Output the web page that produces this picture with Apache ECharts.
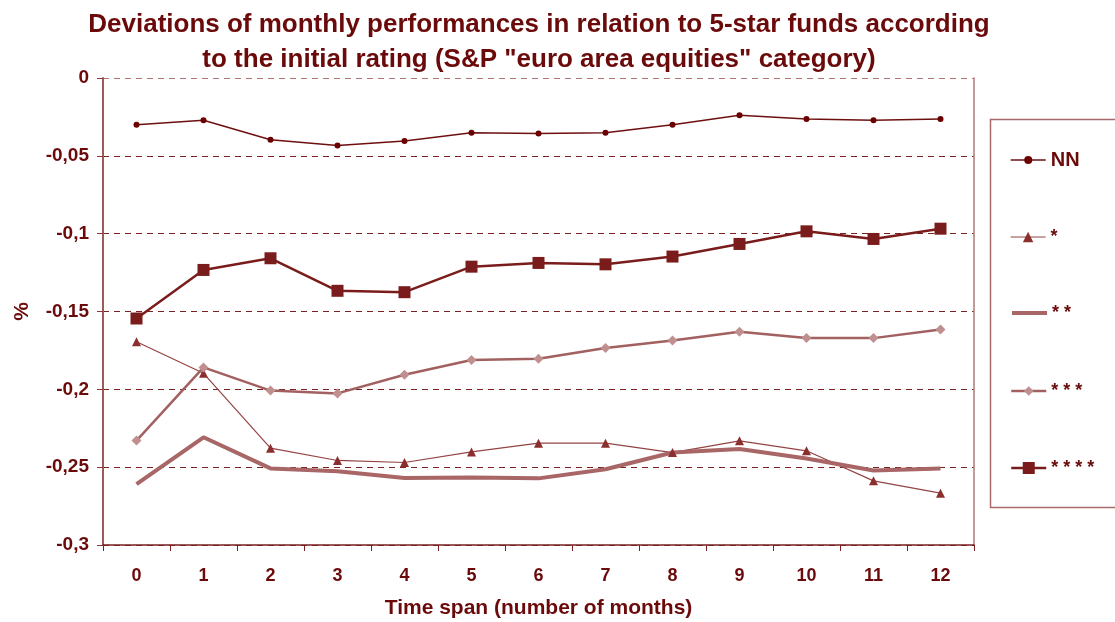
<!DOCTYPE html>
<html>
<head>
<meta charset="utf-8">
<script src="https://cdn.jsdelivr.net/npm/echarts@6/dist/echarts.min.js"></script>
<style>html,body{margin:0;padding:0;background:#fff;}#c{width:1115px;height:622px;}</style>
</head>
<body>
<div id="c"></div>
<script>
const categories = ['0','1','2','3','4','5','6','7','8','9','10','11','12'];
const seriesNames = ['NN', '*', '* *', '* * *', '* * * *'];
const nnValues    = [-0.0301,-0.0271,-0.0397,-0.0434,-0.0404,-0.0351,-0.0357,-0.0351,-0.0301,-0.0239,-0.0263,-0.0271,-0.0263];
const star1Values = [-0.1694,-0.1897,-0.2378,-0.2457,-0.2470,-0.2402,-0.2346,-0.2346,-0.2406,-0.2331,-0.2395,-0.2588,-0.2667];
const star2Values = [-0.2609,-0.2308,-0.2508,-0.2526,-0.2570,-0.2566,-0.2572,-0.2513,-0.2406,-0.2383,-0.2444,-0.2521,-0.2508];
const star3Values = [-0.2329,-0.1859,-0.2008,-0.2026,-0.1906,-0.1812,-0.1803,-0.1735,-0.1686,-0.1630,-0.1671,-0.1671,-0.1615];
const star4Values = [-0.1545,-0.1233,-0.1158,-0.1367,-0.1376,-0.1212,-0.1188,-0.1197,-0.1147,-0.1066,-0.0985,-0.1034,-0.0968];
const yTickLabels = {'0':'0','-0.05':'-0,05','-0.1':'-0,1','-0.15':'-0,15','-0.2':'-0,2','-0.25':'-0,25','-0.3':'-0,3'};

const dark = '#6b0a0a';
const font = '"Liberation Sans", Arial, sans-serif';

const seriesStyles = [
  {symbol:'circle',   symbolSize:6,  line:'#6e1010', width:1.5, fill:'#6b0000', legendH:10},
  {symbol:'triangle', symbolSize:9,  line:'#944444', width:1.2, fill:'#8b2e2e', legendH:13},
  {symbol:'none',     symbolSize:0,  line:'#a86666', width:4,   fill:'#a86666', legendH:12},
  {symbol:'diamond',  symbolSize:10, line:'#a36060', width:2.5, fill:'#c09090', legendH:12},
  {symbol:'rect',     symbolSize:12, line:'#7a1c1c', width:2.5, fill:'#7a1c1c', legendH:15}
];
const seriesData = [nnValues, star1Values, star2Values, star3Values, star4Values];
const legendCenters = [158, 235, 311, 389, 466];

const legends = seriesNames.map(function(n, i){
  const st = seriesStyles[i];
  const fs = i === 0 ? 20 : 18;
  return {
    orient:'vertical', left:1010, top:legendCenters[i] - 9, padding:0,
    itemWidth:35, itemHeight:st.legendH,
    lineStyle:{width:'inherit'},
    itemStyle: st.symbol === 'none' ? {opacity:0} : {},
    textStyle:{fontFamily:font, fontSize:fs, fontWeight:'bold', color:dark, lineHeight:22},
    data:[n]
  };
});

const chart = echarts.init(document.getElementById('c'), null, {renderer:'canvas'});
chart.setOption({
  animation:false,
  backgroundColor:'#ffffff',
  title:{
    text:'Deviations of monthly performances in relation to 5-star funds according\nto the initial rating (S&P "euro area equities" category)',
    left:534, top:2, textAlign:'center',
    textStyle:{fontFamily:font, fontSize:26, fontWeight:'bold', color:dark, lineHeight:35}
  },
  legend:legends,
  graphic:[{
    type:'rect', left:988, top:117, silent:true,
    shape:{width:140, height:388},
    style:{fill:'none', stroke:'#a86a6a', lineWidth:1.5}
  }],
  grid:{left:103, right:141, top:78, bottom:77, outerBoundsMode:'none', containLabel:false},
  xAxis:{
    type:'category', data:categories, boundaryGap:true,
    name:'Time span (number of months)', nameLocation:'middle', nameGap:53,
    nameTextStyle:{fontFamily:font, fontSize:21, fontWeight:'bold', color:dark},
    axisLine:{onZero:false, lineStyle:{color:'#7a2020', width:1.5}},
    axisTick:{show:true, interval:0, length:6, lineStyle:{color:'#7a2020'}},
    axisLabel:{margin:22, fontFamily:font, fontSize:18, fontWeight:'bold', color:dark, interval:0},
    splitLine:{show:false}
  },
  yAxis:[{
    type:'value', min:-0.3, max:0, interval:0.05,
    name:'%', nameLocation:'middle', nameGap:70, nameRotate:90,
    nameTextStyle:{fontFamily:font, fontSize:21, fontWeight:'bold', color:dark},
    axisLine:{show:true, lineStyle:{color:'#a05a5a', width:2}},
    axisTick:{show:true, length:6, lineStyle:{color:'#8a3a3a'}},
    axisLabel:{margin:14, fontFamily:font, fontSize:19, fontWeight:'bold', color:dark,
      formatter:function(v){ const k = String(parseFloat(v.toFixed(2))); return yTickLabels[k] !== undefined ? yTickLabels[k] : k; }},
    splitLine:{show:true, lineStyle:{type:[6,5], color:['#7a2020','#7a2020','#7a2020','#7a2020','#7a2020','#7a2020','#b07474'], width:1}}
  },{
    type:'value', min:-0.3, max:0, interval:0.05, position:'right',
    axisLine:{show:true, onZero:false, lineStyle:{color:'#b07a7a', width:1.5}},
    axisTick:{show:false}, axisLabel:{show:false}, splitLine:{show:false}
  }],
  series:seriesNames.map(function(n, i){
    const st = seriesStyles[i];
    return {
      name:n, type:'line', data:seriesData[i],
      symbol:st.symbol, symbolSize:st.symbolSize, showSymbol: st.symbol !== 'none',
      lineStyle:{color:st.line, width:st.width}, itemStyle:{color:st.fill}
    };
  })
});
</script>
</body>
</html>
